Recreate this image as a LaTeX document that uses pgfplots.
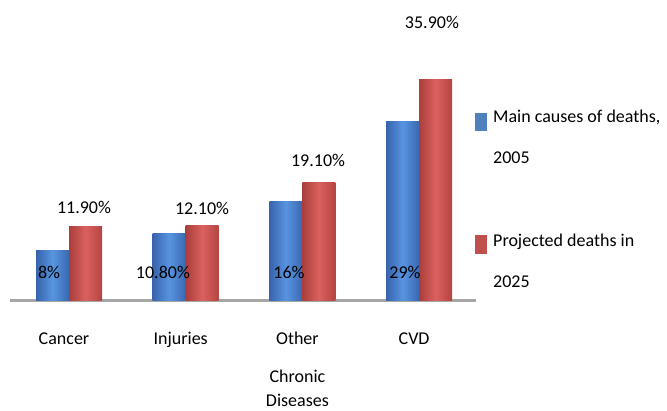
\documentclass[border=0pt]{standalone}
\usepackage{pgfplots}
\pgfplotsset{compat=1.18}
\usepackage{fontspec}
\setmainfont{Carlito}
\definecolor{bmid}{HTML}{5894E0}
\definecolor{bedge}{HTML}{3763AC}
\definecolor{rmid}{HTML}{DA615E}
\definecolor{redge}{HTML}{AA3E3B}
\definecolor{legblue}{HTML}{4F81BD}
\definecolor{legred}{HTML}{C0504D}
\newcommand{\lf}{\fontsize{18bp}{22bp}\selectfont}
\pgfplotsset{
  bluebar/.style={draw=none, bar shift=-16.5bp, left color=bedge, right color=bedge!90!bmid, middle color=bmid},
  redbar/.style={draw=none, bar shift=16.5bp, left color=redge, right color=redge!80!rmid, middle color=rmid},
}
\begin{document}
\begin{tikzpicture}
\useasboundingbox (-10bp,-111bp) rectangle (657bp,300bp);
\begin{axis}[
  at={(0,0)}, anchor=south west,
  scale only axis, width=466bp, height=300bp,
  xmin=-0.5056, xmax=3.4876, ymin=0, ymax=48.78,
  hide y axis,
  axis x line*=bottom,
  x axis line style={-, line width=3bp, color=gray!70},
  xtick={0,1,2,3},
  xticklabels={{\strut Cancer},{\strut Injuries},{\strut Other\\[14bp]Chronic\\Diseases},{\strut CVD}},
  major tick length=0pt,
  xticklabel style={anchor=north, inner sep=0pt, yshift=-27bp, xshift=-5bp, align=center, font=\fontsize{18bp}{24bp}\selectfont},
  ybar, bar width=33bp,
  clip=false,
]
% Main causes of deaths, 2005
\addplot[bluebar] coordinates {(0,8)};
\addplot[bluebar] coordinates {(1,10.8)};
\addplot[bluebar] coordinates {(2,16)};
\addplot[bluebar] coordinates {(3,29)};
% Projected deaths in 2025
\addplot[redbar] coordinates {(0,11.9)};
\addplot[redbar] coordinates {(1,12.1)};
\addplot[redbar] coordinates {(2,19.1)};
\addplot[redbar] coordinates {(3,35.9)};
\node[font=\lf] at (axis cs:-0.171,4.55) {8\%};
\node[font=\lf] at (axis cs:0.805,4.55) {10.80\%};
\node[font=\lf] at (axis cs:1.885,4.55) {16\%};
\node[font=\lf] at (axis cs:2.879,4.55) {29\%};
\node[font=\lf] at (axis cs:0.1285,15.12) {11.90\%};
\node[font=\lf] at (axis cs:1.140,14.96) {12.10\%};
\node[font=\lf] at (axis cs:2.134,22.76) {19.10\%};
\node[font=\lf] at (axis cs:3.110,45.2) {35.90\%};
\end{axis}
\fill[legblue] (465bp,169bp) rectangle (477bp,187bp);
\fill[legred] (465bp,46bp) rectangle (477bp,65bp);
\begin{scope}[every node/.style={font=\lf, inner sep=0pt, anchor=base west}]
\node at (483bp,177bp) {Main causes of deaths,};
\node at (483bp,136bp) {2005};
\node at (483bp,53bp) {Projected deaths in};
\node at (483bp,13bp) {2025};
\end{scope}
\end{tikzpicture}
\end{document}
